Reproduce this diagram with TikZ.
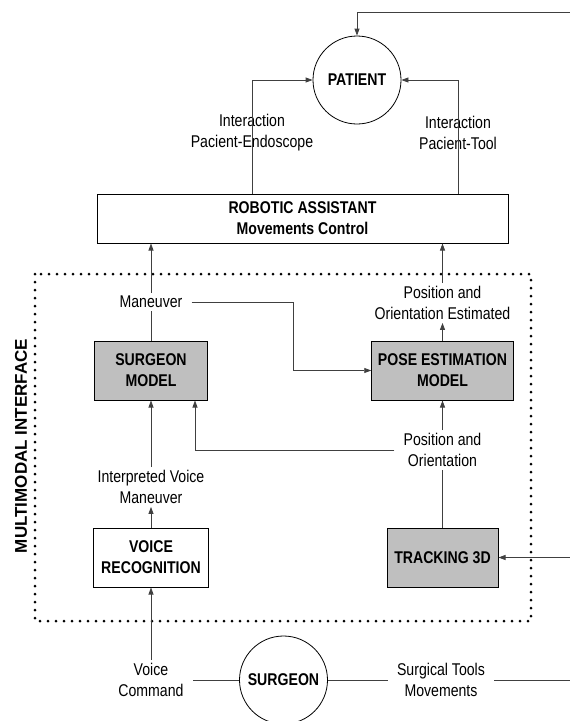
\documentclass[tikz,border=0pt]{standalone}
\usepackage{fontspec}
\setmainfont{Liberation Sans}[FakeStretch=0.83]
\newfontfamily\widesans{Liberation Sans}
\usetikzlibrary{arrows.meta}

\newcommand\diagfont{\fontsize{17}{21}\selectfont}

\tikzset{
  conn/.style={draw=black!75,line width=0.8pt},
  arr/.style={conn,-{Triangle[length=7pt,width=5pt]}},
  whitebox/.style={draw,line width=1pt,fill=white,inner sep=0pt,align=center,font=\diagfont\bfseries},
  graybox/.style={whitebox,fill=black!25},
  lbl/.style={align=center,inner xsep=9pt,inner ysep=3pt,font=\diagfont},
  actor/.style={draw,circle,line width=0.8pt,minimum size=88pt,inner sep=0pt,font=\diagfont\bfseries},
  dotframe/.style={line width=3pt,line cap=round,dash pattern=on 0pt off 8pt},
}

\begin{document}
\begin{tikzpicture}[x=1pt,y=-1pt]
  \fill[white] (0,0) rectangle (570,721);
  \useasboundingbox (0,0) rectangle (570,721);

  \draw[dotframe] (35,274) rectangle (531,621);
  \node[rotate=90,font=\widesans\fontsize{17}{20}\selectfont\bfseries] (mmi) at (21,446) {MULTIMODAL INTERFACE};

  \node[actor] (patient) at (357,80) {PATIENT};
  \node[whitebox,minimum width=411pt,minimum height=49pt] (robot) at (302.5,218.5) {ROBOTIC ASSISTANT\\Movements Control};
  \node[lbl] (ipe) at (252,132.5) {Interaction\\Pacient-Endoscope};
  \node[lbl] (ipt) at (458,132.5) {Interaction\\Pacient-Tool};

  \node[graybox,minimum width=113pt,minimum height=59pt] (smodel) at (151,370.5) {SURGEON\\MODEL};
  \node[graybox,minimum width=141.5pt,minimum height=59pt] (pmodel) at (442.5,370.5) {POSE ESTIMATION\\MODEL};
  \node[whitebox,minimum width=114.5pt,minimum height=59pt] (vrec) at (151,557.5) {VOICE\\RECOGNITION};
  \node[graybox,minimum width=111pt,minimum height=59pt] (track) at (442.5,557.5) {TRACKING 3D};
  \node[actor] (surgeon) at (283.5,680) {SURGEON};

  \node[lbl] (lman) at (151,302) {Maneuver};
  \node[lbl] (lposest) at (442.5,303) {Position and\\Orientation Estimated};
  \node[lbl] (lposor) at (442.5,450) {Position and\\Orientation};
  \node[lbl] (linterp) at (151,487) {Interpreted Voice\\Maneuver};
  \node[lbl] (lvcmd) at (151,680) {Voice\\Command};
  \node[lbl] (lstm) at (441,680) {Surgical Tools\\Movements};

  \coordinate (fbtop) at (570,12);
  \coordinate (fbtrack) at (570,557.5);
  \coordinate (fbtools) at (570,680);
  \coordinate (kink) at (293,302);

  \draw[arr] (fbtop) -| (patient);
  \draw[arr] (ipe |- robot.north) |- (patient);
  \draw[arr] (ipt |- robot.north) |- (patient);
  \draw[conn] (smodel) -- (lman);
  \draw[arr] (lman) -- (lman |- robot.south);
  \draw[arr] (lman) -- (kink) |- (pmodel);
  \draw[arr] (pmodel) -- (lposest);
  \draw[arr] (lposest) -- (lposest |- robot.south);
  \draw[conn] (track) -- (lposor);
  \draw[arr] (lposor) -- (pmodel);
  \draw[arr] (lposor) -| ([xshift=44pt]smodel.south);
  \draw[arr] (linterp) -- (smodel);
  \draw[arr] (vrec) -- (linterp);
  \draw[arr] (lvcmd) -- (vrec);
  \draw[conn] (surgeon) -- (lvcmd);
  \draw[conn] (surgeon) -- (lstm);
  \draw[conn] (lstm) -- (fbtools);
  \draw[arr] (fbtrack) -- (track);
\end{tikzpicture}
\end{document}
